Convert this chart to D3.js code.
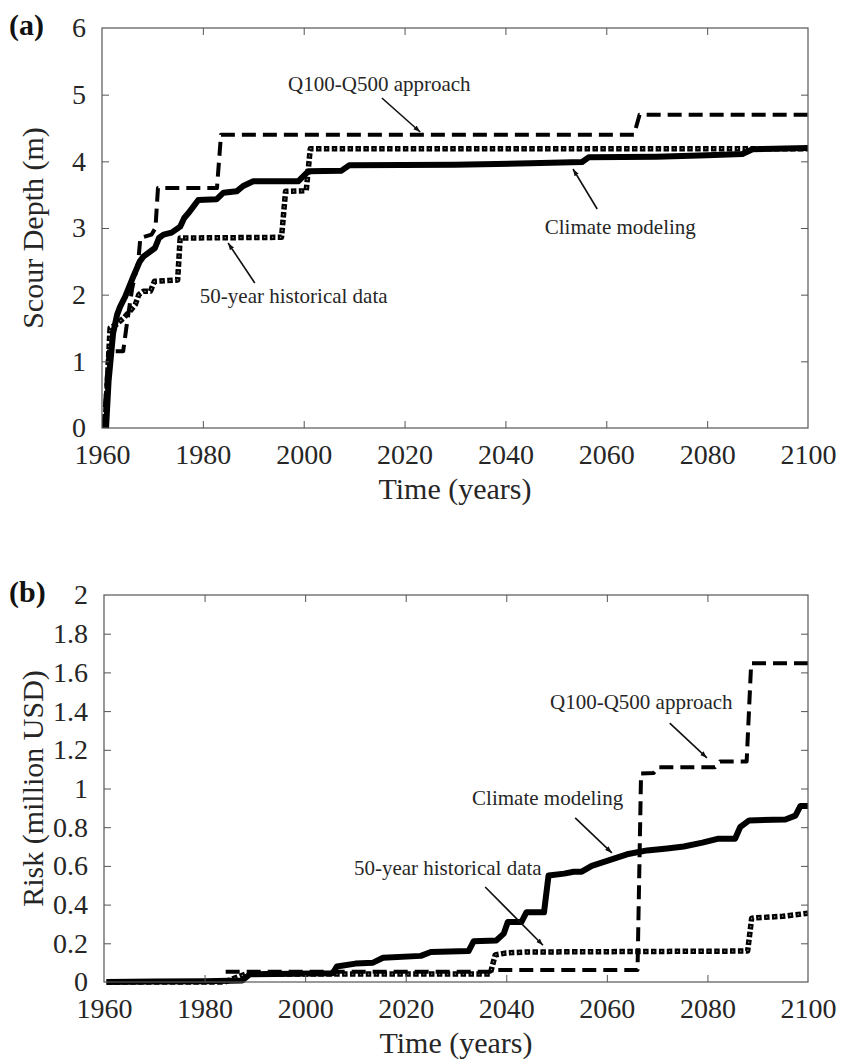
<!DOCTYPE html>
<html>
<head>
<meta charset="utf-8">
<script src="https://cdn.jsdelivr.net/npm/d3@7/dist/d3.min.js"></script>
<style>
  html, body { margin: 0; padding: 0; background: #fff; }
  svg text { font-family: "Liberation Serif", "Times New Roman", Times, serif; fill: #262626; }
</style>
</head>
<body>
<svg id="fig" width="851" height="1064"></svg>
<script>
// ---- Data: [year, value] pairs ----
const xTicks = [1960, 1980, 2000, 2020, 2040, 2060, 2080, 2100];
const depthTicks = [0, 1, 2, 3, 4, 5, 6];
const riskTicks = [0, 0.2, 0.4, 0.6, 0.8, 1, 1.2, 1.4, 1.6, 1.8, 2];

// (a) scour depth (m)
const depthClimate = [[1960.8,0],[1961.3,0.7],[1962.2,1.42],[1963.0,1.7],[1963.6,1.82],[1964.6,1.97],[1966.2,2.27],[1967.5,2.5],[1968.2,2.57],[1970.5,2.70],[1971.3,2.85],[1972.2,2.90],[1973.8,2.93],[1975.5,3.02],[1976.3,3.15],[1977.1,3.22],[1979.1,3.42],[1982.7,3.43],[1984.1,3.53],[1986.7,3.55],[1988,3.63],[1990,3.70],[1998.9,3.70],[2000.9,3.85],[2007.5,3.86],[2009,3.94],[2030,3.95],[2045,3.97],[2055.2,3.99],[2056.5,4.06],[2070,4.07],[2080,4.09],[2087,4.11],[2089,4.18],[2100,4.20]];
const depthQ100 = [[1960.3,0],[1961.3,1.15],[1964.2,1.15],[1965.0,1.6],[1966.0,2.1],[1967.2,2.5],[1967.6,2.85],[1969.8,2.9],[1970.6,3.0],[1971.1,3.6],[1982.8,3.6],[1983.6,4.4],[2065.5,4.4],[2066.6,4.7],[2100,4.7]];
const depthHist = [[1960.6,0],[1961.6,1.5],[1962.8,1.55],[1964.3,1.65],[1965.5,1.75],[1966.6,1.85],[1967.3,2.0],[1968.2,2.05],[1969.6,2.05],[1970.4,2.2],[1975,2.22],[1975.5,2.85],[1995.6,2.86],[1996.4,3.55],[2000.5,3.56],[2001.3,4.19],[2100,4.19]];

// (b) risk (million USD)
const riskClimate = [[1960.5,0],[1970,0.002],[1980,0.004],[1987.5,0.008],[1989,0.04],[2005.5,0.045],[2006.3,0.08],[2010,0.095],[2013.5,0.10],[2015.5,0.125],[2023,0.135],[2025,0.155],[2032.5,0.16],[2033.5,0.21],[2038,0.215],[2039.5,0.25],[2040.3,0.31],[2043,0.31],[2044,0.36],[2047.5,0.36],[2048.4,0.55],[2051.5,0.56],[2053.4,0.57],[2055,0.57],[2057,0.60],[2060.5,0.63],[2064,0.66],[2068,0.68],[2072,0.69],[2075.3,0.70],[2079,0.72],[2082,0.74],[2085.5,0.74],[2086.5,0.80],[2088.3,0.835],[2095.5,0.84],[2097.5,0.86],[2098.5,0.91],[2100,0.91]];
const riskQ100 = [[1984.2,0.053],[2036.8,0.053],[2037.5,0.062],[2066.1,0.062],[2066.8,1.078],[2069.3,1.08],[2070.2,1.11],[2081.5,1.11],[2082.5,1.14],[2087.8,1.14],[2088.7,1.647],[2100,1.647]];
const riskHist = [[1960.5,0],[1984,0],[1986,0.02],[1988.2,0.041],[2036.8,0.041],[2037.8,0.14],[2040,0.15],[2044,0.155],[2088,0.16],[2088.8,0.33],[2095,0.34],[2100,0.355]];

// Annotations: label position and arrow (start -> tip), all in data units
const notesA = [
  {text: "Q100-Q500 approach", at: [1996.9, 5.13], from: [2015.5, 4.95], to: [2023.1, 4.44]},
  {text: "Climate modeling", at: [2047.8, 2.985], from: [2058.2, 3.285], to: [2053.4, 3.885]},
  {text: "50-year historical data", at: [1979.4, 1.95], from: [1990.3, 2.175], to: [1985.0, 2.775]}
];
const notesB = [
  {text: "Q100-Q500 approach", at: [2048.7, 1.437], from: [2072.5, 1.338], to: [2079.9, 1.158]},
  {text: "Climate modeling", at: [2033.2, 0.94], from: [2053.7, 0.848], to: [2061.0, 0.667]},
  {text: "50-year historical data", at: [2009.7, 0.579], from: [2035.8, 0.491], to: [2047.3, 0.19]}
];

// ---- Drawing ----
const SERIF = '"Liberation Serif", "Times New Roman", Times, serif';
const svg = d3.select("#fig").attr("font-family", SERIF);
const defs = svg.append("defs");
defs.append("marker")
  .attr("id", "arrowhead")
  .attr("viewBox", "0 0 10 10")
  .attr("refX", 10).attr("refY", 5)
  .attr("markerWidth", 7).attr("markerHeight", 7)
  .attr("markerUnits", "userSpaceOnUse")
  .attr("orient", "auto")
  .append("path").attr("d", "M0,1.5 L10,5 L0,8.5 Z").attr("fill", "#111");

const styles = {
  climate: {width: 6, dash: null},
  q100: {width: 4, dash: "14,7"},
  hist: {width: 5.5, dash: "5.5,2.4"}
};

function panel(cfg) {
  const x = d3.scaleLinear().domain([1960, 2100]).range([cfg.left, cfg.right]);
  const y = d3.scaleLinear().domain(cfg.yDomain).range([cfg.bottom, cfg.top]);
  const g = svg.append("g");
  const clipId = "clip-" + cfg.id;
  defs.append("clipPath").attr("id", clipId)
    .append("rect")
    .attr("x", cfg.left).attr("y", cfg.top - 4)
    .attr("width", cfg.right - cfg.left).attr("height", cfg.bottom - cfg.top + 8);

  const line = d3.line().x(d => x(d[0])).y(d => y(d[1]));
  const plot = g.append("g").attr("clip-path", `url(#${clipId})`);

  function drawSeries(data, st, extra) {
    const p = plot.append("path").datum(data)
      .attr("d", line).attr("fill", "none")
      .attr("stroke", "#000").attr("stroke-width", st.width)
      .attr("stroke-linejoin", "round").attr("stroke-linecap", "butt");
    if (st.dash) p.attr("stroke-dasharray", st.dash);
    if (extra) {
      // light centres of the square dots
      plot.append("path").datum(data)
        .attr("d", line).attr("fill", "none")
        .attr("stroke", "#8a8a8a").attr("stroke-width", 1.3)
        .attr("stroke-dasharray", "1.3,6.6").attr("stroke-dashoffset", -2.1);
    }
  }
  drawSeries(cfg.hist, styles.hist, true);
  drawSeries(cfg.q100, styles.q100);
  drawSeries(cfg.climate, styles.climate);

  // frame with inward ticks on all sides
  const axisColor = "#555";
  const tickLen = 7;
  const axes = g.append("g");
  axes.append("g").attr("transform", `translate(0,${cfg.bottom})`)
    .call(d3.axisBottom(x).tickValues(xTicks).tickFormat(d3.format("d")).tickSizeInner(-tickLen).tickSizeOuter(0).tickPadding(16));
  axes.append("g").attr("transform", `translate(0,${cfg.top})`)
    .call(d3.axisTop(x).tickValues(xTicks).tickFormat("").tickSizeInner(-tickLen).tickSizeOuter(0));
  axes.append("g").attr("transform", `translate(${cfg.left},0)`)
    .call(d3.axisLeft(y).tickValues(cfg.yTicks).tickFormat(d => d3.format("~g")(d)).tickSizeInner(-tickLen).tickSizeOuter(0).tickPadding(16));
  axes.append("g").attr("transform", `translate(${cfg.right},0)`)
    .call(d3.axisRight(y).tickValues(cfg.yTicks).tickFormat("").tickSizeInner(-tickLen).tickSizeOuter(0));
  axes.selectAll("g").attr("font-family", SERIF);
  axes.selectAll(".domain").remove();
  axes.selectAll(".tick line").attr("stroke", axisColor).attr("stroke-width", 1);
  axes.selectAll(".tick text").attr("font-size", 28).attr("fill", "#262626");
  // no tick marks where they would sit on the frame corners
  axes.selectAll(".tick").filter(d => d === 1960 || d === 2100).select("line").remove();
  axes.selectAll(".tick").filter(d => d === cfg.yDomain[0] || d === cfg.yDomain[1]).select("line").remove();

  g.append("rect")
    .attr("x", cfg.left).attr("y", cfg.top)
    .attr("width", cfg.right - cfg.left).attr("height", cfg.bottom - cfg.top)
    .attr("fill", "none").attr("stroke", axisColor).attr("stroke-width", 1.2);

  // axis titles
  g.append("text")
    .attr("x", (cfg.left + cfg.right) / 2).attr("y", cfg.bottom + 64)
    .attr("text-anchor", "middle").attr("dominant-baseline", "middle")
    .attr("font-size", 30).text("Time (years)");
  g.append("text")
    .attr("transform", `translate(36,${(cfg.top + cfg.bottom) / 2}) rotate(-90)`)
    .attr("text-anchor", "middle").attr("dominant-baseline", "middle")
    .attr("font-size", 30).text(cfg.yTitle);
  g.append("text")
    .attr("x", 9).attr("y", cfg.top)
    .attr("dominant-baseline", "middle")
    .attr("font-size", 30).attr("font-weight", "bold")
    .style("fill", "#111")
    .text(cfg.tag);

  // annotations
  cfg.notes.forEach(n => {
    g.append("text")
      .attr("x", x(n.at[0])).attr("y", y(n.at[1]))
      .attr("dominant-baseline", "middle")
      .attr("font-size", 21).text(n.text);
    g.append("line")
      .attr("x1", x(n.from[0])).attr("y1", y(n.from[1]))
      .attr("x2", x(n.to[0])).attr("y2", y(n.to[1]))
      .attr("stroke", "#111").attr("stroke-width", 1.6)
      .attr("marker-end", "url(#arrowhead)");
  });
}

panel({
  id: "a", tag: "(a)", left: 102, right: 808, top: 28, bottom: 428,
  yDomain: [0, 6], yTicks: depthTicks, yTitle: "Scour Depth (m)",
  climate: depthClimate, q100: depthQ100, hist: depthHist, notes: notesA
});
panel({
  id: "b", tag: "(b)", left: 104, right: 808, top: 595, bottom: 982,
  yDomain: [0, 2], yTicks: riskTicks, yTitle: "Risk (million USD)",
  climate: riskClimate, q100: riskQ100, hist: riskHist, notes: notesB
});
</script>
</body>
</html>
